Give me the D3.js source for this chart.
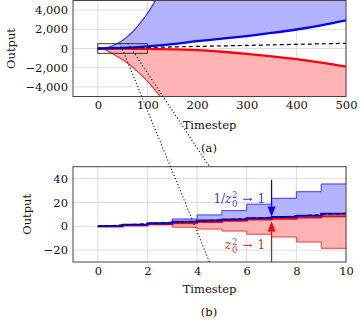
<!DOCTYPE html>
<html>
<head>
<meta charset="utf-8">
<script src="https://cdn.jsdelivr.net/npm/d3@7"></script>
<style>
  body { margin: 0; background: #fff; }
  svg { display: block; font-family: "DejaVu Serif", serif; }
  svg text { font-family: "DejaVu Serif", serif; }
</style>
</head>
<body>
<script>
// ---- panel (a) data ----
var aTicksX = [0, 100, 200, 300, 400, 500];
var aTicksY = [-4000, -2000, 0, 2000, 4000];
var aT     = [0, 50, 100, 150, 200, 250, 300, 350, 400, 450, 500];
var aBlue  = [0, 60, 220, 460, 760, 1020, 1300, 1620, 1980, 2420, 2940];
var aRed   = [0, 0, -40, -90, -170, -340, -560, -820, -1110, -1470, -1880];
var aDashT = [0, 500];
var aDash  = [0, 540];
var aEdgeT = [0, 10, 20, 30, 40, 50, 60, 70, 80, 90, 100, 110, 120, 130];
var aUpper = [0, 20, 110, 280, 550, 850, 1260, 1740, 2310, 2950, 3670, 4470, 5350, 6300];
var aLower = [0, -60, -250, -560, -860, -1180, -1540, -1950, -2400, -2880, -3420, -3990, -4620, -5300];
var aBox   = [[0, -500], [100, 500]];

// ---- panel (b) data ----
var bTicksX = [0, 2, 4, 6, 8, 10];
var bTicksY = [-20, 0, 20, 40];
var bT      = [0, 1, 2, 3, 4, 5, 6, 7, 8, 9, 10];
var bUpper  = [0, 1.5, 3, 6.1, 9.5, 13.1, 18.5, 23.5, 29, 35.5, 35.5];
var bBlue   = [0, 1.2, 2.3, 3.8, 4.9, 5.7, 6.7, 7.7, 8.8, 10.4, 10.4];
var bRed    = [0, 0.8, 1.8, 2.6, 3.6, 4.6, 5.6, 6.3, 7.4, 8.4, 8.4];
var bLower  = [0, 0.4, 1.2, -0.8, -2.3, -4, -6.7, -9, -13.2, -18.5, -18.5];
var bDashT  = [0, 10];
var bDash   = [0, 10.8];
var bArrowT = 7;
var bArrowBlue = [39, 8.1];
var bArrowRed  = [-30, 4];

// dotted connectors: start in (a) coords, end in (b) coords
var linkA = [[45, 500], [4.5, -30]];
var linkB = [[61, 500], [4.5, 50]];

var W = 361, H = 325;
var FONT = '"DejaVu Serif", serif';
var svg = d3.select("body").append("svg")
	.attr("width", W)
	.attr("height", H)
	.attr("font-family", FONT);

var xa = d3.scaleLinear().domain([-50, 500]).range([73, 346]);
var ya = d3.scaleLinear().domain([-5000, 5000]).range([96.5, 0.5]);
var xb = d3.scaleLinear().domain([-1, 10]).range([73, 346]);
var yb = d3.scaleLinear().domain([-30, 50]).range([262, 166.7]);

var gridColor = '#d4d4d4';
var fs = 11.5;

function drawPanel(x, y, ticksX, ticksY, id){
	var g = svg.append('g');
	svg.append('clipPath').attr('id', id)
		.append('rect')
		.attr('x', x.range()[0]).attr('y', y.range()[1])
		.attr('width', x.range()[1] - x.range()[0])
		.attr('height', y.range()[0] - y.range()[1]);

	// grid
	g.selectAll('.gx').data(ticksX).enter().append('line')
		.attr('x1', function(d){ return x(d); }).attr('x2', function(d){ return x(d); })
		.attr('y1', y.range()[0]).attr('y2', y.range()[1])
		.attr('stroke', gridColor).attr('stroke-width', 0.8);
	g.selectAll('.gy').data(ticksY).enter().append('line')
		.attr('y1', function(d){ return y(d); }).attr('y2', function(d){ return y(d); })
		.attr('x1', x.range()[0]).attr('x2', x.range()[1])
		.attr('stroke', gridColor).attr('stroke-width', 0.8);

	var plot = g.append('g').attr('clip-path', 'url(#' + id + ')');

	// tick labels
	var ax = svg.append('g')
		.attr('transform', 'translate(0,' + y.range()[0] + ')')
		.call(d3.axisBottom(x).tickValues(ticksX).tickSize(0).tickPadding(4.5).tickFormat(d3.format(',')));
	var ay = svg.append('g')
		.attr('transform', 'translate(' + x.range()[0] + ',0)')
		.call(d3.axisLeft(y).tickValues(ticksY).tickSize(0).tickPadding(5).tickFormat(d3.format(',')));
	[ax, ay].forEach(function(a){
		a.attr('font-family', FONT).attr('font-size', fs);
		a.select('.domain').remove();
		a.selectAll('text')
			.style('font-family', FONT)
			.style('font-size', fs + 'px')
			.attr('fill', '#111');
	});
	return {g: g, plot: plot};
}

function frame(x, y){
	svg.append('rect')
		.attr('x', x.range()[0]).attr('y', y.range()[1])
		.attr('width', x.range()[1] - x.range()[0])
		.attr('height', y.range()[0] - y.range()[1])
		.attr('fill', 'none')
		.attr('stroke', '#444')
		.attr('stroke-width', 1);
}

/*
/	PANEL (a)
*/
var pa = drawPanel(xa, ya, aTicksX, aTicksY, 'clipA');

var upperPts = aEdgeT.map(function(t, i){ return [xa(t), ya(aUpper[i])]; });
var bluePts = aT.map(function(t, i){ return [xa(t), ya(aBlue[i])]; });
var lowerPts = aEdgeT.map(function(t, i){ return [xa(t), ya(aLower[i])]; });
var redPts = aT.map(function(t, i){ return [xa(t), ya(aRed[i])]; });

var line = d3.line();

pa.plot.append('path')
	.attr('d', line(upperPts.concat([[xa(500), ya(5000)]], bluePts.slice().reverse())) + 'Z')
	.attr('fill', '#b3b3ff');
pa.plot.append('path')
	.attr('d', line(lowerPts.concat([[xa(500), ya(-5000)]], redPts.slice().reverse())) + 'Z')
	.attr('fill', '#ffb3b3');

var curve = d3.line().curve(d3.curveMonotoneX);
pa.plot.append('path').attr('d', curve(upperPts))
	.attr('fill', 'none').attr('stroke', '#2a2aff').attr('stroke-width', 1.1);
pa.plot.append('path').attr('d', curve(lowerPts))
	.attr('fill', 'none').attr('stroke', '#ff2a2a').attr('stroke-width', 1.1);
pa.plot.append('path').attr('d', curve(redPts))
	.attr('fill', 'none').attr('stroke', '#ff0000').attr('stroke-width', 2.3);
pa.plot.append('path').attr('d', curve(bluePts))
	.attr('fill', 'none').attr('stroke', '#0000ff').attr('stroke-width', 2.3);
pa.plot.append('path')
	.attr('d', line(aDashT.map(function(t, i){ return [xa(t), ya(aDash[i])]; })))
	.attr('fill', 'none').attr('stroke', '#000').attr('stroke-width', 1.2)
	.attr('stroke-dasharray', '4,3');

frame(xa, ya);

svg.append('rect')
	.attr('x', xa(aBox[0][0])).attr('y', ya(aBox[1][1]))
	.attr('width', xa(aBox[1][0]) - xa(aBox[0][0]))
	.attr('height', ya(aBox[0][1]) - ya(aBox[1][1]))
	.attr('fill', 'none').attr('stroke', '#222').attr('stroke-width', 0.9);

/*
/	PANEL (b)
*/
var pb = drawPanel(xb, yb, bTicksX, bTicksY, 'clipB');
var step = d3.line().curve(d3.curveStepAfter);
function pts(ys){ return bT.map(function(t, i){ return [xb(t), yb(ys[i])]; }); }

pb.plot.append('path')
	.attr('d', d3.area().curve(d3.curveStepAfter)
		.x(function(d){ return xb(d); })
		.y0(function(d, i){ return yb(bBlue[i]); })
		.y1(function(d, i){ return yb(bUpper[i]); })(bT))
	.attr('fill', '#b3b3ff');
pb.plot.append('path')
	.attr('d', d3.area().curve(d3.curveStepAfter)
		.x(function(d){ return xb(d); })
		.y0(function(d, i){ return yb(bRed[i]); })
		.y1(function(d, i){ return yb(bLower[i]); })(bT))
	.attr('fill', '#ffb3b3');

pb.plot.append('path').attr('d', step(pts(bUpper)))
	.attr('fill', 'none').attr('stroke', '#3a3aff').attr('stroke-width', 1);
pb.plot.append('path').attr('d', step(pts(bLower)))
	.attr('fill', 'none').attr('stroke', '#ff3a3a').attr('stroke-width', 1);
pb.plot.append('path').attr('d', step(pts(bRed)))
	.attr('fill', 'none').attr('stroke', '#ff0000').attr('stroke-width', 2);
pb.plot.append('path').attr('d', step(pts(bBlue)))
	.attr('fill', 'none').attr('stroke', '#0000ff').attr('stroke-width', 2);
pb.plot.append('path')
	.attr('d', line(bDashT.map(function(t, i){ return [xb(t), yb(bDash[i])]; })))
	.attr('fill', 'none').attr('stroke', '#000').attr('stroke-width', 1.2)
	.attr('stroke-dasharray', '4,3');

// arrows
function arrow(from, to, color){
	var x0 = xb(bArrowT), y0 = yb(from), y1 = yb(to);
	var dir = y1 > y0 ? 1 : -1;
	var len = 10, half = 4;
	svg.append('line')
		.attr('x1', x0).attr('x2', x0)
		.attr('y1', y0).attr('y2', y1 - dir * len)
		.attr('stroke', color).attr('stroke-width', 1.3);
	svg.append('path')
		.attr('d', 'M' + x0 + ',' + y1 + 'L' + (x0 - half) + ',' + (y1 - dir * len) +
			'L' + (x0 + half) + ',' + (y1 - dir * len) + 'Z')
		.attr('fill', color);
}
arrow(bArrowBlue[0], bArrowBlue[1], '#0000ff');
arrow(bArrowRed[0], bArrowRed[1], '#ff0000');

frame(xb, yb);

// math labels
function mathLabel(xEnd, y, pre, color){
	var t = svg.append('text')
		.attr('x', xEnd).attr('y', y)
		.attr('font-size', fs + 0.5)
		.attr('text-anchor', 'end')
		.attr('fill', color);
	if(pre) t.append('tspan').text(pre);
	t.append('tspan').attr('font-style', 'italic').text('z');
	t.append('tspan').attr('font-size', 8.5).attr('dx', 0.5).attr('dy', -4.5).text('2');
	t.append('tspan').attr('font-size', 8.5).attr('dx', -5.4).attr('dy', 8.5).text('0');
	t.append('tspan').attr('dx', 5).attr('dy', -4).text('\u2192');
	t.append('tspan').attr('dx', 5).text('1');
}
mathLabel(xb(bArrowT) - 6.5, yb(19.6), '1/', '#3b3bd6');
mathLabel(xb(bArrowT) - 6.5, yb(-19.3), null, '#d63030');

/*
/	AXIS TITLES
*/
function title(x, y, s, rot){
	svg.append('text')
		.attr('transform', 'translate(' + x + ',' + y + ')' + (rot ? ' rotate(-90)' : ''))
		.attr('text-anchor', 'middle')
		.attr('font-size', fs)
		.attr('fill', '#111')
		.text(s);
}
title(15, 48.5, 'Output', true);
title(209.5, 129.3, 'Timestep');
title(209, 151.5, '(a)');
title(31, 214.3, 'Output', true);
title(209.5, 293, 'Timestep');
title(209, 316, '(b)');

/*
/	DOTTED CONNECTORS
*/
[linkA, linkB].forEach(function(l){
	svg.append('line')
		.attr('x1', xa(l[0][0])).attr('y1', ya(l[0][1]))
		.attr('x2', xb(l[1][0])).attr('y2', yb(l[1][1]))
		.attr('stroke', '#111').attr('stroke-width', 1.3)
		.attr('stroke-linecap', 'round')
		.attr('stroke-dasharray', '0.01,3.3');
});
</script>
</body>
</html>
